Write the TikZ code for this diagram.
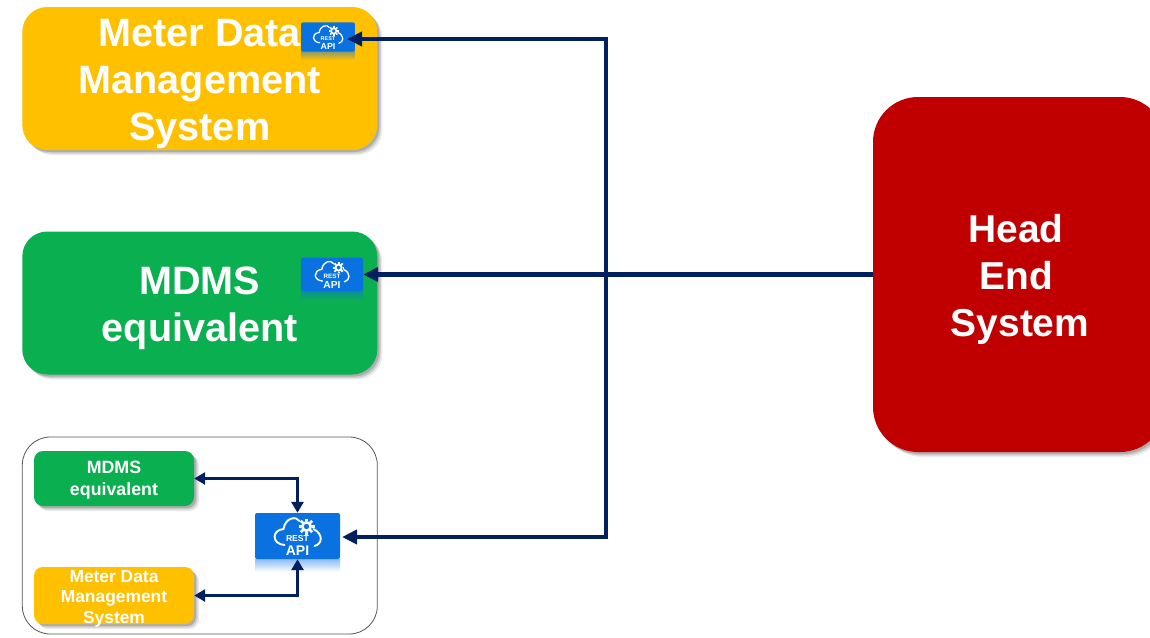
\documentclass[tikz,border=0pt]{standalone}
\usepackage{fontspec}
\setmainfont{Liberation Sans}
\usetikzlibrary{arrows.meta,calc}
\definecolor{mdmsyellow}{HTML}{FFC000}
\definecolor{mdmsgreen}{HTML}{0AAF50}
\definecolor{hesred}{HTML}{C00000}
\definecolor{apiblue}{HTML}{0A72E0}
\definecolor{linknavy}{HTML}{002060}
\definecolor{framegray}{HTML}{555555}
\newcommand{\droptext}[1]{\rule{0pt}{#1}}
\tikzset{
  softshadow/.style={
    preaction={fill=black,fill opacity=.08,transform canvas={shift={(5pt,-5pt)}}},
    preaction={fill=black,fill opacity=.12,transform canvas={shift={(3.5pt,-3.5pt)}}},
    preaction={fill=black,fill opacity=.16,transform canvas={shift={(2pt,-2pt)}}}},
  bigbox/.style={softshadow,rounded corners=25pt,minimum width=355pt,minimum height=143pt,
    inner sep=0pt,text=white,align=center,font=\fontsize{39.6}{47}\selectfont\bfseries},
  smallbox/.style={softshadow,rounded corners=9pt,minimum width=160pt,inner sep=0pt,
    text=white,align=center},
  hesbox/.style={softshadow,rounded corners=45pt,fill=hesred,minimum width=292pt,minimum height=355pt,
    inner sep=0pt,text=white,align=center,font=\fontsize{38.9}{47}\selectfont\bfseries},
  framebox/.style={draw=framegray,line width=.8pt,rounded corners=28pt,minimum width=355pt,minimum height=197pt},
  apibox/.style={fill=apiblue,rounded corners=2pt,inner sep=0pt},
  bigline/.style={draw=linknavy,line width=4.2pt,line cap=butt,line join=miter},
  smallline/.style={draw=linknavy,line width=3pt,line join=miter,{Triangle[length=11pt,width=12pt]}-{Triangle[length=11pt,width=12pt]}},
  bigarrow/.style={bigline,-{Triangle[length=15pt,width=14pt]}}
}
% name, cx, cy, scale, background colour
\newcommand{\apiicon}[5]{%
  \shade[top color=apiblue!45!#5,bottom color=#5] ({#2-42.5*#4},{#3+23.5*#4}) rectangle ({#2+42.5*#4},{#3+36*#4});
  \node[apibox,minimum width=#4*85pt,minimum height=#4*46pt] (#1) at (#2,#3) {};
  \begin{scope}[shift={(#2,#3)},scale=#4,white,line width=#4*1.9pt,line cap=round]
    \draw (-13,9) .. controls (-26,8) and (-26,-6) .. (-14,-7)
          .. controls (-12,-19) and (-1,-20) .. (2,-15);
    \draw (16,-7) .. controls (26,-2) and (25,8) .. (17,10);
    \draw[line width=#4*2.6pt] (9,-9.5) circle (4.2);
    \foreach \a in {0,45,...,315}
      \draw[line width=#4*2.6pt,line cap=butt] ($(9,-9.5)+(\a:5.4)$) -- ($(9,-9.5)+(\a:8)$);
    \node[font=\fontsize{8.6}{8.6}\selectfont\bfseries,text=white,inner sep=0pt,scale=#4] at (0,3) {REST};
    \node[font=\fontsize{14}{14}\selectfont\bfseries,text=white,inner sep=0pt,scale=#4] at (0,14.5) {API};
  \end{scope}}
\begin{document}
\begin{tikzpicture}[x=1pt,y=-1pt]
  \useasboundingbox (0,0) rectangle (1150,637);
  \fill[white] (0,0) rectangle (1150,637);

  \node[bigbox,fill=mdmsyellow] (mdm) at (199.8,78.5) {\droptext{38pt}Meter Data\\Management\\System};
  \node[bigbox,fill=mdmsgreen] (mdmseq) at (199.8,303) {\droptext{39pt}MDMS\\equivalent};
  \node[hesbox] (hes) at (1019,274.5) {\droptext{39pt}Head\kern6pt\\End\kern5pt\\\kern2pt System};

  \node[framebox] (frame) at (199.8,535.5) {};
  \node[smallbox,fill=mdmsgreen,minimum height=55pt,font=\fontsize{17.8}{22}\selectfont\bfseries] (mdmssmall) at (114,478.5) {\droptext{16pt}MDMS\\equivalent};
  \node[smallbox,inner ysep=-5pt,fill=mdmsyellow,minimum height=57pt,font=\fontsize{17.4}{20.5}\selectfont\bfseries] (metersmall) at (114,595.5) {\droptext{18pt}Meter Data\\Management\\System};

  \apiicon{apione}{328}{37}{.635}{mdmsyellow}
  \apiicon{apitwo}{332}{274.5}{.73}{mdmsgreen}
  \apiicon{apithree}{297.5}{536}{1}{white}

  \coordinate (junction) at (606,274.5);
  \coordinate (tipone) at (347,39);
  \coordinate (tipthree) at (342,537);

  \draw[bigline] (hes.west) -- (junction);
  \draw[bigarrow] (junction) -- (apitwo.east);
  \draw[bigarrow] (junction) |- (tipone);
  \draw[bigarrow] (junction) |- (tipthree);

  \draw[smallline] (mdmssmall.east) -| (apithree.north);
  \draw[smallline] (metersmall.east) -| (apithree.south);
\end{tikzpicture}
\end{document}
